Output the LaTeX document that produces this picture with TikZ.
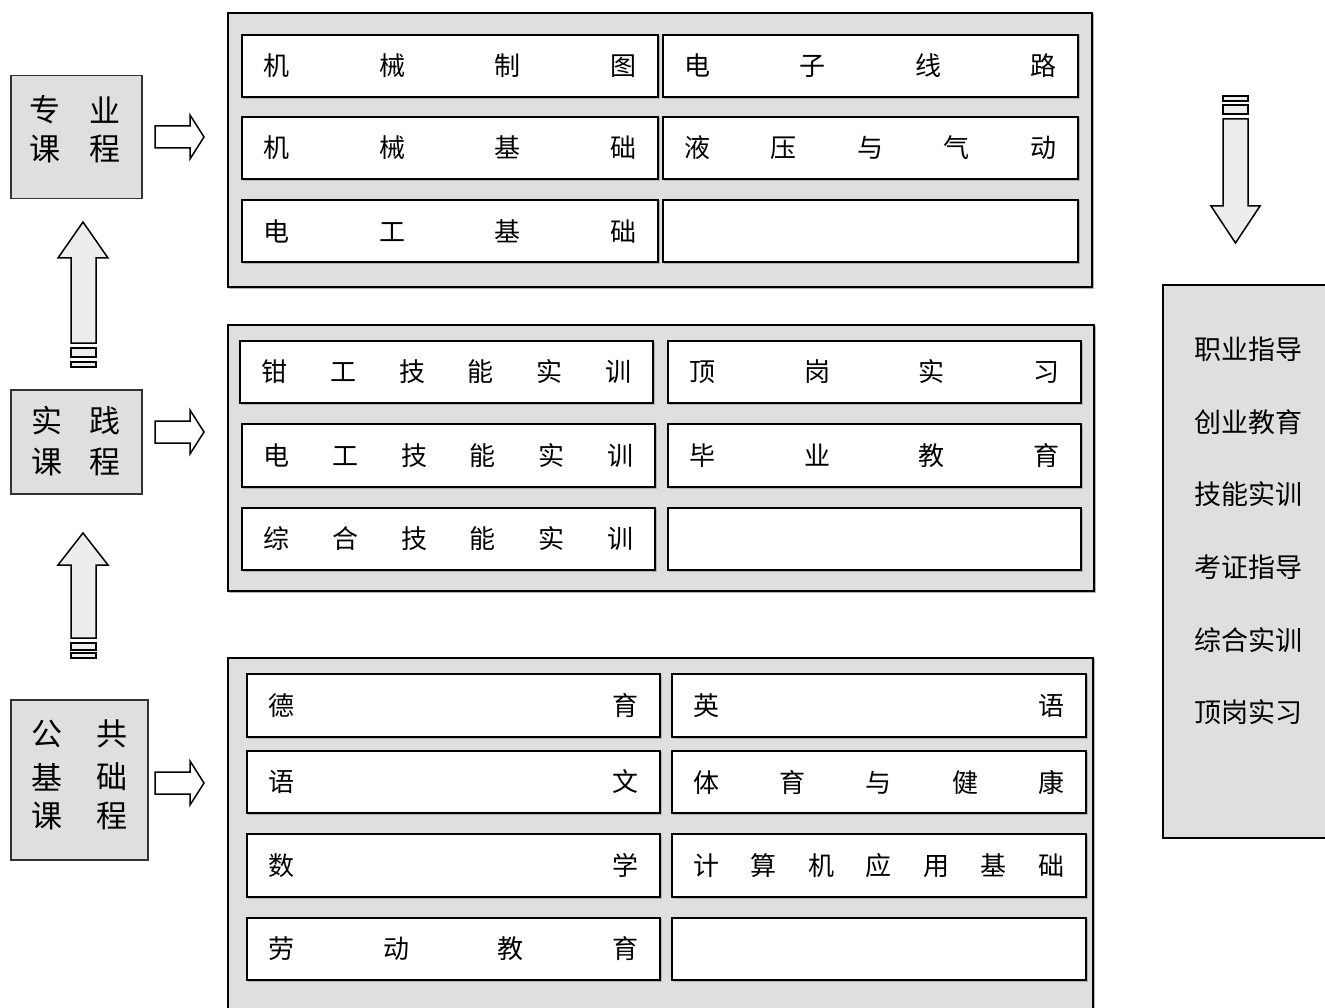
\documentclass[tikz,border=0pt]{standalone}
\usepackage{fontspec}
\setmainfont{Noto Sans CJK SC}
\definecolor{panelgray}{HTML}{DFDFDF}
\definecolor{arrowgray}{HTML}{EDEDED}
\newcommand\spreadtext[2]{\hbox to #1pt{#2}}
\newcommand\mkcell[6]{% name, x0, y0, x1, y1, text
  \pgfmathsetmacro\cw{#4-#2}\pgfmathsetmacro\chh{#5-#3}\pgfmathsetmacro\tw{#4-#2-43}
  \node[cellbox, minimum width=\cw pt, minimum height=\chh pt] (#1) at ({(#2+#4)/2},{(#3+#5)/2}) {\spreadtext{\tw}{#6}};}
\tikzset{
  cellbox/.style={draw=black, line width=2pt, fill=white, inner sep=0pt, font=\fontsize{26}{26}\selectfont,
    preaction={draw=gray!60, line width=1.6pt, transform canvas={xshift=1.3pt,yshift=-1.3pt}}},
  panel/.style={draw=black, line width=1.5pt, fill=panelgray,
    preaction={draw=gray!60, line width=1.2pt, transform canvas={xshift=1.2pt,yshift=-1.2pt}}},
  leftbox/.style={draw=black!80, line width=1.5pt, fill=panelgray, inner sep=0pt},
  bigch/.style={font=\fontsize{31}{31}\selectfont, inner sep=0pt},
  rtxt/.style={font=\fontsize{27}{27}\selectfont, inner sep=0pt},
  blockarrow/.style={draw=black, line width=1.5pt, fill=arrowgray, line join=miter},
  rarrow/.style={draw=black, line width=1.5pt, fill=white, line join=miter}
}
\begin{document}
\begin{tikzpicture}[x=1pt,y=-1pt]
\useasboundingbox (0,0) rectangle (1325,1008);
\fill[white] (0,0) rectangle (1325,1008);

% ---------- panels ----------
\draw[panel] (228,13) rectangle (1092,287);
\draw[panel] (228,325) rectangle (1094,591);
\draw[panel] (228,658) rectangle (1093,1020);

% ---------- top panel cells ----------
\mkcell{a1}{242}{35}{658}{97}{机\hfill 械\hfill 制\hfill 图}
\mkcell{a2}{663}{35}{1078}{97}{电\hfill 子\hfill 线\hfill 路}
\mkcell{a3}{242}{117}{658}{179}{机\hfill 械\hfill 基\hfill 础}
\mkcell{a4}{663}{117}{1078}{179}{液\hfill 压\hfill 与\hfill 气\hfill 动}
\mkcell{a5}{242}{200}{658}{262}{电\hfill 工\hfill 基\hfill 础}
\mkcell{a6}{663}{200}{1078}{262}{}

% ---------- middle panel cells ----------
\mkcell{b1}{240}{341}{653}{403}{钳\hfill 工\hfill 技\hfill 能\hfill 实\hfill 训}
\mkcell{b2}{668}{341}{1081}{403}{顶\hfill 岗\hfill 实\hfill 习}
\mkcell{b3}{242}{424}{655}{487}{电\hfill 工\hfill 技\hfill 能\hfill 实\hfill 训}
\mkcell{b4}{668}{424}{1081}{487}{毕\hfill 业\hfill 教\hfill 育}
\mkcell{b5}{242}{508}{655}{570}{综\hfill 合\hfill 技\hfill 能\hfill 实\hfill 训}
\mkcell{b6}{668}{508}{1081}{570}{}

% ---------- bottom panel cells ----------
\mkcell{c1}{247}{674}{660}{737}{德\hfill 育}
\mkcell{c2}{672}{674}{1086}{737}{英\hfill 语}
\mkcell{c3}{247}{751}{660}{813}{语\hfill 文}
\mkcell{c4}{672}{751}{1086}{813}{体\hfill 育\hfill 与\hfill 健\hfill 康}
\mkcell{c5}{247}{834}{660}{897}{数\hfill 学}
\mkcell{c6}{672}{834}{1086}{897}{计\hfill 算\hfill 机\hfill 应\hfill 用\hfill 基\hfill 础}
\mkcell{c7}{247}{918}{660}{980}{劳\hfill 动\hfill 教\hfill 育}
\mkcell{c8}{672}{918}{1086}{980}{}

% ---------- left boxes ----------
\node[leftbox, minimum width=131pt, minimum height=123pt] (zy) at (76.5,137) {};
\node[bigch] (zy1) at (45,110) {专};
\node[bigch] (zy2) at (105,110) {业};
\node[bigch] (zy3) at (45,149) {课};
\node[bigch] (zy4) at (105,149) {程};

\node[leftbox, minimum width=131pt, minimum height=104pt] (sj) at (76.5,442) {};
\node[bigch] (sj1) at (47,421) {实};
\node[bigch] (sj2) at (105,421) {践};
\node[bigch] (sj3) at (47,462) {课};
\node[bigch] (sj4) at (105,462) {程};

\node[leftbox, minimum width=137pt, minimum height=160pt] (gg) at (79.5,780) {};
\node[bigch] (gg1) at (47,734) {公};
\node[bigch] (gg2) at (112,734) {共};
\node[bigch] (gg3) at (47,777) {基};
\node[bigch] (gg4) at (112,777) {础};
\node[bigch] (gg5) at (47,816) {课};
\node[bigch] (gg6) at (112,816) {程};

% ---------- right box ----------
\draw[leftbox, draw=black] (1163,285) -- (1330,285) -- (1330,838) -- (1163,838) -- cycle;
\node[rtxt] (r1) at (1248,349) {职业指导};
\node[rtxt] (r2) at (1248,422) {创业教育};
\node[rtxt] (r3) at (1248,494) {技能实训};
\node[rtxt] (r4) at (1248,567) {考证指导};
\node[rtxt] (r5) at (1248,640) {综合实训};
\node[rtxt] (r6) at (1248,712) {顶岗实习};

% ---------- right-pointing block arrows ----------
\foreach \cy in {137,432,783}{
  \draw[rarrow] (155,\cy-11) -- (190,\cy-11) -- (190,\cy-22) -- (204,\cy) -- (190,\cy+22)
     -- (190,\cy+11) -- (155,\cy+11) -- cycle;
}

% ---------- up block arrows ----------
\draw[blockarrow] (83,222) -- (108,258) -- (96,258) -- (96,343) -- (71,343) -- (71,258) -- (58,258) -- cycle;
\draw[blockarrow] (71,348) rectangle (96,357);
\draw[blockarrow] (71,362) rectangle (96,367);

\draw[blockarrow] (83,533) -- (108,565) -- (96,565) -- (96,638) -- (71,638) -- (71,565) -- (58,565) -- cycle;
\draw[blockarrow] (71,643) rectangle (96,650);
\draw[blockarrow] (71,653) rectangle (96,658);

% ---------- down block arrow ----------
\draw[blockarrow] (1223,119) -- (1248,119) -- (1248,206) -- (1260,206) -- (1235.5,243) -- (1211,206)
   -- (1223,206) -- cycle;
\draw[blockarrow] (1223,105) rectangle (1248,114);
\draw[blockarrow] (1223,96) rectangle (1248,101);
\end{tikzpicture}
\end{document}
